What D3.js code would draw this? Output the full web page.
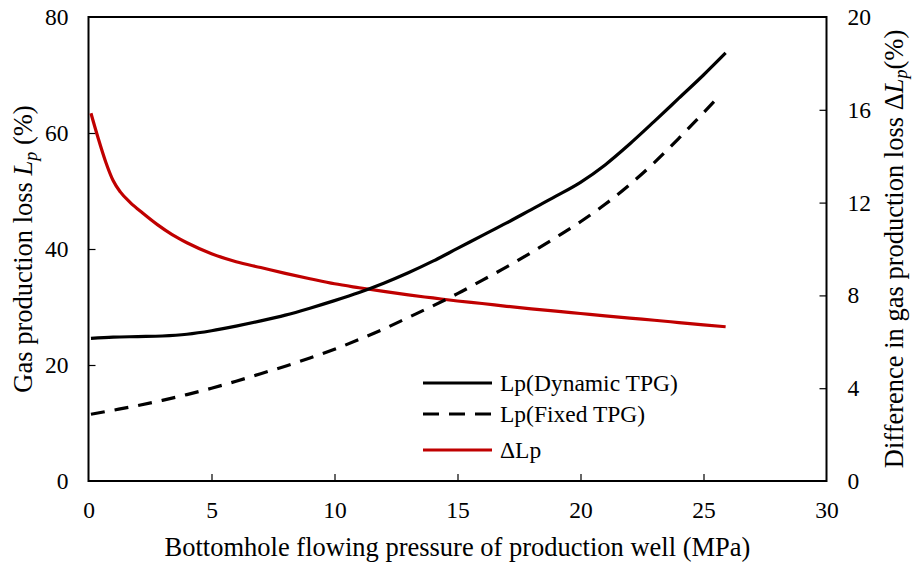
<!DOCTYPE html>
<html>
<head>
<meta charset="utf-8">
<script src="https://cdn.jsdelivr.net/npm/d3@7"></script>
<style>
  html, body { margin: 0; padding: 0; background: #fff; }
  svg { display: block; font-family: "Liberation Serif", "Times New Roman", serif; }
</style>
</head>
<body>
<svg id="chart" width="913" height="562"></svg>
<script>
// Bottomhole flowing pressure (MPa) and gas production loss Lp (%)
const pressureDynamic = [0.1, 1, 2, 3, 4, 5, 6, 7, 8, 9, 10, 11, 12, 13, 14, 15, 16, 17, 18, 19, 20, 21, 22, 23, 24, 25, 25.9];
const lpDynamic = [24.6, 24.8, 24.9, 25.0, 25.3, 25.9, 26.7, 27.6, 28.6, 29.8, 31.1, 32.5, 34.1, 35.9, 37.9, 40.1, 42.3, 44.5, 46.8, 49.1, 51.5, 54.5, 58.1, 62.0, 66.0, 70.0, 73.8];

const pressureFixed = [0.1, 1, 2, 3, 4, 5, 6, 7, 8, 9, 10, 11, 12, 13, 14, 15, 16, 17, 18, 19, 20, 21, 22, 23, 24, 25, 25.6];
const lpFixed = [11.5, 12.2, 13.0, 13.9, 14.9, 16.0, 17.2, 18.5, 19.8, 21.2, 22.7, 24.4, 26.2, 28.2, 30.2, 32.3, 34.6, 36.9, 39.4, 42.0, 44.7, 47.7, 51.1, 54.9, 59.1, 63.5, 66.2];

// Difference between the two losses, ΔLp (%), on the right axis
const pressureDelta = [0.1, 0.4, 0.7, 1.0, 1.3, 1.7, 2.2, 2.8, 3.4, 4, 5, 6, 7, 8, 9, 10, 11, 12, 13, 14, 15, 16, 17, 18, 19, 20, 21, 22, 23, 24, 25, 25.9];
const deltaLp = [15.85, 14.75, 13.75, 12.95, 12.45, 12.0, 11.55, 11.05, 10.62, 10.27, 9.8, 9.45, 9.2, 8.95, 8.72, 8.5, 8.33, 8.17, 8.02, 7.89, 7.76, 7.65, 7.53, 7.42, 7.32, 7.22, 7.12, 7.02, 6.93, 6.83, 6.73, 6.65];

const xTicks = [0, 5, 10, 15, 20, 25, 30];
const yLeftTicks = [0, 20, 40, 60, 80];
const yRightTicks = [0, 4, 8, 12, 16, 20];

const seriesNames = ["Lp(Dynamic TPG)", "Lp(Fixed TPG)", "\u0394Lp"];

const svg = d3.select("#chart");
const plotLeft = 88.5, plotRight = 826.5, plotTop = 17, plotBottom = 481;

const x = d3.scaleLinear().domain([0, 30]).range([plotLeft, plotRight]);
const yL = d3.scaleLinear().domain([0, 80]).range([plotBottom, plotTop]);
const yR = d3.scaleLinear().domain([0, 20]).range([plotBottom, plotTop]);

const tickFont = 23.5;
const titleFont = 26.5;
const legendFont = 23.5;

// Axes with inward ticks
const axX = svg.append("g").attr("transform", `translate(0,${plotBottom})`)
  .call(d3.axisBottom(x).tickValues(xTicks).tickSizeInner(-7).tickSizeOuter(0).tickPadding(20));
const axL = svg.append("g").attr("transform", `translate(${plotLeft},0)`)
  .call(d3.axisLeft(yL).tickValues(yLeftTicks).tickSizeInner(-7).tickSizeOuter(0).tickPadding(20));
const axR = svg.append("g").attr("transform", `translate(${plotRight},0)`)
  .call(d3.axisRight(yR).tickValues(yRightTicks).tickSizeInner(-7).tickSizeOuter(0).tickPadding(21));

[axX, axL, axR].forEach(g => {
  g.selectAll(".domain").remove();
  g.selectAll(".tick line").attr("stroke", "#000").attr("stroke-width", 1.2);
  g.selectAll(".tick text").attr("fill", "#000").attr("font-size", tickFont)
    .attr("font-family", "Liberation Serif, Times New Roman, serif");
});
// Tick marks on the frame corners are not needed
axX.selectAll(".tick").filter(d => d === 0 || d === 30).select("line").remove();
axL.selectAll(".tick").filter(d => d === 0 || d === 80).select("line").remove();
axR.selectAll(".tick").filter(d => d === 0 || d === 20).select("line").remove();

// Plot frame
svg.append("rect")
  .attr("x", plotLeft).attr("y", plotTop)
  .attr("width", plotRight - plotLeft).attr("height", plotBottom - plotTop)
  .attr("fill", "none").attr("stroke", "#000").attr("stroke-width", 2);

const lineL = d3.line().x(d => x(d[0])).y(d => yL(d[1])).curve(d3.curveMonotoneX);
const lineR = d3.line().x(d => x(d[0])).y(d => yR(d[1])).curve(d3.curveMonotoneX);

svg.append("path")
  .datum(pressureDelta.map((p, i) => [p, deltaLp[i]]))
  .attr("d", lineR).attr("fill", "none").attr("stroke", "#c00000").attr("stroke-width", 3.2);

svg.append("path")
  .datum(pressureFixed.map((p, i) => [p, lpFixed[i]]))
  .attr("d", lineL).attr("fill", "none").attr("stroke", "#000").attr("stroke-width", 3.2)
  .attr("stroke-dasharray", "14 10");

svg.append("path")
  .datum(pressureDynamic.map((p, i) => [p, lpDynamic[i]]))
  .attr("d", lineL).attr("fill", "none").attr("stroke", "#000").attr("stroke-width", 3.2);

// Legend
const legendStyles = [
  { color: "#000", dash: null },
  { color: "#000", dash: "16 10" },
  { color: "#c00000", dash: null }
];
const legendY = [383, 414, 450];
const legend = svg.append("g");
seriesNames.forEach((name, i) => {
  legend.append("line")
    .attr("x1", 423).attr("x2", 492).attr("y1", legendY[i]).attr("y2", legendY[i])
    .attr("stroke", legendStyles[i].color).attr("stroke-width", 3.2)
    .attr("stroke-dasharray", legendStyles[i].dash);
  legend.append("text")
    .attr("x", 500).attr("y", legendY[i]).attr("dy", "0.35em")
    .attr("font-size", legendFont).attr("fill", "#000").text(name);
});

// Axis titles
svg.append("text")
  .attr("x", (plotLeft + plotRight) / 2).attr("y", 556)
  .attr("text-anchor", "middle").attr("font-size", titleFont).attr("fill", "#000")
  .text("Bottomhole flowing pressure of production well (MPa)");

const tl = svg.append("text")
  .attr("transform", `translate(32,${(plotTop + plotBottom) / 2}) rotate(-90)`)
  .attr("text-anchor", "middle").attr("font-size", titleFont).attr("fill", "#000");
tl.append("tspan").text("Gas production loss ");
tl.append("tspan").attr("font-style", "italic").text("L");
tl.append("tspan").attr("font-style", "italic").attr("font-size", 18).attr("dy", 5).text("p");
tl.append("tspan").attr("dy", -5).text(" (%)");

const tr = svg.append("text")
  .attr("transform", `translate(903,${(plotTop + plotBottom) / 2}) rotate(-90)`)
  .attr("text-anchor", "middle").attr("font-size", titleFont).attr("fill", "#000");
tr.append("tspan").text("Difference in gas production loss \u0394");
tr.append("tspan").attr("font-style", "italic").text("L");
tr.append("tspan").attr("font-style", "italic").attr("font-size", 18).attr("dy", 4).text("p");
tr.append("tspan").attr("dy", -4).text("(%)");
</script>
</body>
</html>
